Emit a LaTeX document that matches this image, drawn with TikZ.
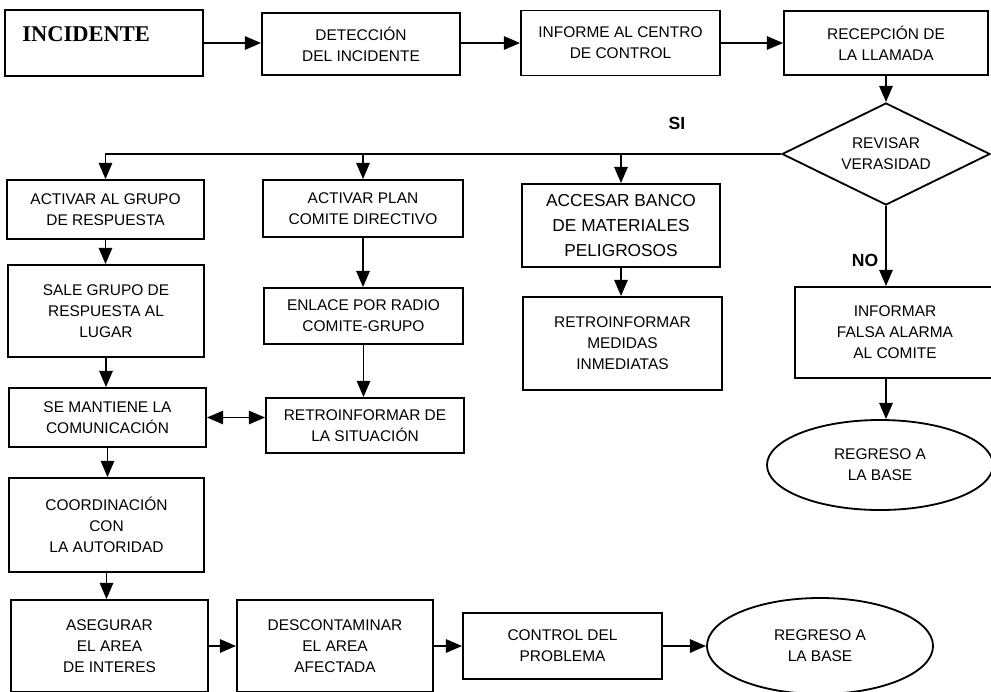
\documentclass[tikz,border=0pt]{standalone}
\usepackage{fontspec}
\setmainfont{Liberation Sans}
\newfontfamily\titlefont{Liberation Serif}
\usepackage{tikz}
\usetikzlibrary{arrows.meta,shapes.geometric}

\begin{document}
\begin{tikzpicture}[x=0.025cm, y=-0.025cm,
  box/.style={draw, line width=1.3pt, align=center, inner sep=0pt, font=\fontsize{11}{15}\selectfont},
  oval/.style={box, ellipse},
  arr/.style={line width=1.3pt, -{Triangle[length=11.5pt,width=9.5pt]}},
  dblarr/.style={line width=1.3pt, {Triangle[length=11.5pt,width=9.5pt]}-{Triangle[length=11.5pt,width=9.5pt]}},
  tag/.style={font=\bfseries\fontsize{12.5}{14}\selectfont}]
\useasboundingbox (0,0) rectangle (991,691);

\node[box, minimum width=4.95cm, minimum height=1.65cm,
  label={[anchor=west, inner sep=0pt, xshift=0.45cm, yshift=-0.62cm, font=\titlefont\bfseries\fontsize{16}{19}\selectfont]north west:INCIDENTE}] (incid) at (104,43) {};
\node[box, minimum width=4.95cm, minimum height=1.55cm] (detec) at (361,44) {DETECCIÓN\\DEL INCIDENTE};
\node[box, minimum width=4.975cm, minimum height=1.625cm] (inform) at (620.5,43) {INFORME AL CENTRO\\DE CONTROL};
\node[box, minimum width=5.1cm, minimum height=1.6cm] (recep) at (886,43) {RECEPCIÓN DE\\LA LLAMADA};
\node[box, diamond, aspect=2, minimum width=5.2cm, minimum height=2.55cm] (diam) at (886,154) {REVISAR\\VERASIDAD};

\node[box, minimum width=4.925cm, minimum height=1.475cm] (actg) at (105.5,209.5) {ACTIVAR AL GRUPO\\DE RESPUESTA};
\node[box, minimum width=5cm, minimum height=1.425cm] (actp) at (363,208.5) {ACTIVAR PLAN\\COMITE DIRECTIVO};
\node[box, minimum width=4.95cm, minimum height=2.075cm, font=\fontsize{12.3}{17.5}\selectfont] (acc) at (621,225.5) {ACCESAR BANCO\\DE MATERIALES\\PELIGROSOS};
\node[box, minimum width=4.975cm, minimum height=2.325cm] (medid) at (622.5,343.5) {RETROINFORMAR\\MEDIDAS\\INMEDIATAS};
\node[box, minimum width=5cm, minimum height=2.275cm] (falsa) at (895,332.5) {INFORMAR\\FALSA ALARMA\\AL COMITE};
\node[oval, minimum width=5.65cm, minimum height=2.25cm] (reg1) at (880,465) {REGRESO A\\LA BASE};

\node[box, minimum width=4.9cm, minimum height=2.3cm] (sale) at (106,311) {SALE GRUPO DE\\RESPUESTA AL\\LUGAR};
\node[box, minimum width=4.975cm, minimum height=1.4cm] (enl) at (363.5,316) {ENLACE POR RADIO\\COMITE-GRUPO};
\node[box, minimum width=4.925cm, minimum height=1.475cm] (mant) at (107.5,417.5) {SE MANTIENE LA\\COMUNICACIÓN};
\node[box, minimum width=4.95cm, minimum height=1.375cm] (rsit) at (365,425.5) {RETROINFORMAR DE\\LA SITUACIÓN};
\node[box, minimum width=4.875cm, minimum height=2.35cm] (coord) at (106.5,525) {COORDINACIÓN\\CON\\LA AUTORIDAD};

\node[box, minimum width=4.925cm, minimum height=2.3cm] (aseg) at (109.5,646) {ASEGURAR\\EL AREA\\DE INTERES};
\node[box, minimum width=4.9cm, minimum height=2.3cm] (desc) at (335,646) {DESCONTAMINAR\\EL AREA\\AFECTADA};
\node[box, minimum width=4.975cm, minimum height=1.65cm] (ctrl) at (562.5,646) {CONTROL DEL\\PROBLEMA};
\node[oval, minimum width=5.65cm, minimum height=2.4cm] (reg2) at (820,646) {REGRESO A\\LA BASE};

\node[tag] (si) at (677,123) {SI};
\node[tag] (no) at (865,260) {NO};

\draw[arr] (incid) -- (incid -| detec.west);
\draw[arr] (detec.east |- incid) -- (incid -| inform.west);
\draw[arr] (inform) -- (recep);
\draw[arr] (recep.south) -- (diam.north);
\draw[arr] (diam.west) -| (actg.north);
\draw[arr] (diam.west -| actp.north) -- (actp.north);
\draw[arr] (diam.west -| acc.north) -- (acc.north);
\draw[arr] (diam.south) -- (diam.south |- falsa.north);
\draw[arr] (falsa.south -| diam.south) -- (reg1.north -| diam.south);
\draw[arr] (acc.south) -- (acc.south |- medid.north);
\draw[arr] (actg.south) -- (actg.south |- sale.north);
\draw[arr] (actp.south) -- (actp.south |- enl.north);
\draw[arr] (enl.south) -- (enl.south |- rsit.north);
\draw[arr] (sale.south) -- (sale.south |- mant.north);
\draw[dblarr] (mant.east) -- (mant.east -| rsit.west);
\draw[arr] (mant.south) -- (mant.south |- coord.north);
\draw[arr] (coord.south) -- (coord.south |- aseg.north);
\draw[arr] (aseg) -- (desc);
\draw[arr] (desc) -- (ctrl);
\draw[arr] (ctrl) -- (reg2);
\end{tikzpicture}
\end{document}
